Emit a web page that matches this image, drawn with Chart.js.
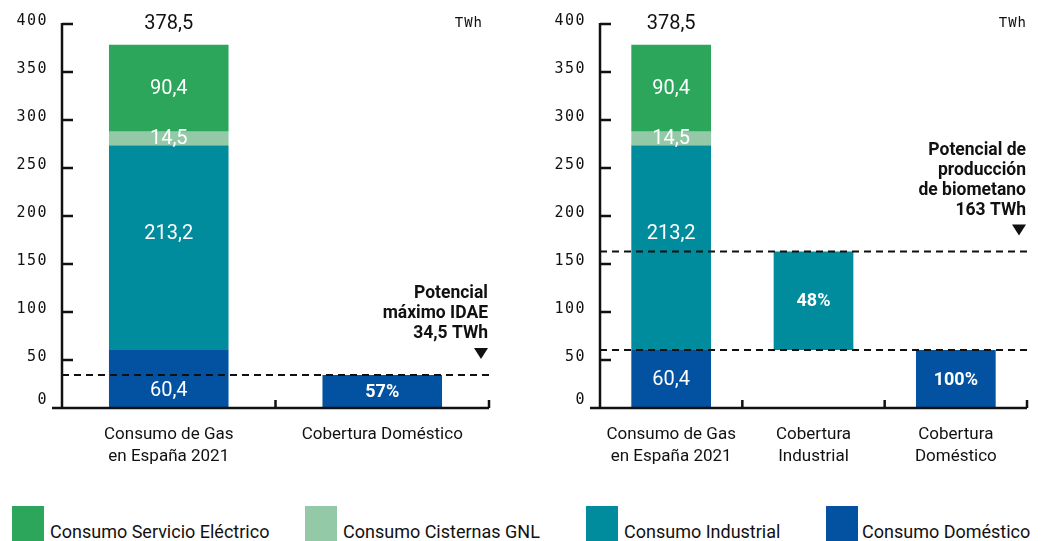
<!DOCTYPE html>
<html>
<head>
<meta charset="utf-8">
<script src="https://cdn.jsdelivr.net/npm/chart.js@4.4.1/dist/chart.umd.min.js"></script>
<style>
html, body { margin: 0; padding: 0; background: #fff; }
#wrap { position: relative; width: 1041px; height: 541px; overflow: hidden; }
.panel { position: absolute; top: 0; }
#left { left: 0; }
#right { left: 520px; }
.leg { position: absolute; top: 506px; height: 35px; font-family: Roboto, sans-serif; font-size: 18px; color: #111; }
.leg .sw { position: absolute; left: 0; top: 0; width: 32px; height: 35px; }
.leg .tx { position: absolute; top: 15px; line-height: 21px; white-space: nowrap; }
</style>
</head>
<body>
<div id="wrap">
  <canvas id="left" class="panel" width="520" height="480"></canvas>
  <canvas id="right" class="panel" width="521" height="480"></canvas>
  <div id="legend"></div>
</div>
<script>
// Categories
const categoriesLeft = [['Consumo de Gas', 'en España 2021'], ['Cobertura Doméstico']];
const categoriesRight = [['Consumo de Gas', 'en España 2021'], ['Cobertura', 'Industrial'], ['Cobertura', 'Doméstico']];
const yTicks = [0, 50, 100, 150, 200, 250, 300, 350, 400];

// Series (legend order)
const seriesNames = ['Consumo Servicio Eléctrico', 'Consumo Cisternas GNL', 'Consumo Industrial', 'Consumo Doméstico'];
const seriesColors = ['#2ba65b', '#93c9a6', '#008c9d', '#0352a2'];

// Consumo de gas 2021, TWh (same order as seriesNames)
const consumo2021 = [90.4, 14.5, 213.2, 60.4];
const consumoTotal = 378.5;

// Potenciales, TWh
const potencialIDAE = 34.5;
const potencialBiometano = 163;

// Coberturas
const coberturaDomesticoIDAE = '57%';
const coberturaIndustrialBio = '48%';
const coberturaDomesticoBio = '100%';

// Format number with comma decimal
function fmt(v) {
    return v.toFixed(1).replace('.', ',');
}

// Floating ranges for the stacked 2021 bar, bottom to top
function stackRanges() {
    const ranges = new Array(seriesNames.length);
    let base = 0;
    for (let i = seriesNames.length - 1; i >= 0; i--) {
        ranges[i] = [base, base + consumo2021[i]];
        base += consumo2021[i];
    }
    return ranges;
}

const ranges = stackRanges();
const idxDom = 3, idxInd = 2;

function buildDatasets(extra, n) {
    // extra: { seriesIndex: [ [catIndex, range, label], ... ] }
    return seriesNames.map((name, i) => {
        const data = new Array(n).fill(null);
        const labels = new Array(n).fill(null);
        data[0] = ranges[i];
        labels[0] = fmt(consumo2021[i]);
        (extra[i] || []).forEach(([c, r, l]) => { data[c] = r; labels[c] = l; });
        return {
            label: name,
            data: data,
            valueLabels: labels,
            backgroundColor: seriesColors[i],
            borderWidth: 0,
            grouped: false,
            categoryPercentage: 1,
            barPercentage: 0.56
        };
    });
}

const datasetsLeft = buildDatasets({
    [idxDom]: [[1, [0, potencialIDAE], coberturaDomesticoIDAE]]
}, categoriesLeft.length);

const datasetsRight = buildDatasets({
    [idxInd]: [[1, [consumo2021[idxDom], potencialBiometano], coberturaIndustrialBio]],
    [idxDom]: [[2, [0, consumo2021[idxDom]], coberturaDomesticoBio]]
}, categoriesRight.length);

const INK = '#111';

// Axes, labels and annotations
const decorPlugin = {
    id: 'decor',
    afterDatasetsDraw(chart, args, o) {
        const ctx = chart.ctx;
        const xs = chart.scales.x;
        const ys = chart.scales.y;
        const a = chart.chartArea;
        ctx.save();

        // dashed reference lines
        ctx.strokeStyle = INK;
        ctx.lineWidth = 2;
        ctx.setLineDash([7, 5]);
        o.dashed.forEach(v => {
            const y = ys.getPixelForValue(v);
            ctx.beginPath();
            ctx.moveTo(a.left, y);
            ctx.lineTo(a.right, y);
            ctx.stroke();
        });
        ctx.setLineDash([]);

        // y axis with inward ticks
        ctx.lineWidth = 2.5;
        ctx.beginPath();
        ctx.moveTo(a.left, ys.getPixelForValue(400) - 1);
        ctx.lineTo(a.left, a.bottom);
        yTicks.forEach(t => {
            if (t === 0) return;
            const y = ys.getPixelForValue(t);
            ctx.moveTo(a.left, y);
            ctx.lineTo(a.left + 11, y);
        });
        ctx.stroke();

        // x axis with category boundary ticks
        ctx.beginPath();
        ctx.moveTo(a.left - 10, a.bottom);
        ctx.lineTo(a.right, a.bottom);
        const n = chart.data.labels.length;
        for (let i = 1; i <= n; i++) {
            const x = i < n ? (xs.getPixelForValue(i - 1) + xs.getPixelForValue(i)) / 2 : a.right;
            ctx.moveTo(x, a.bottom);
            ctx.lineTo(x, a.bottom - 8);
        }
        ctx.stroke();

        // y tick labels
        ctx.fillStyle = INK;
        ctx.font = '15px "DejaVu Sans Mono", monospace';
        ctx.letterSpacing = '1.5px';
        ctx.textAlign = 'right';
        ctx.textBaseline = 'middle';
        yTicks.forEach(t => {
            const y = ys.getPixelForValue(t) - (t === 0 ? 8 : 3);
            ctx.fillText(String(t), a.left - 14, y);
        });

        // unit
        ctx.font = '14px "DejaVu Sans Mono", monospace';
        ctx.letterSpacing = '1px';
        ctx.fillText('TWh', a.right - o.unitInset + 1, ys.getPixelForValue(400) - 1);
        ctx.letterSpacing = '0px';

        // category labels
        ctx.font = '17px Roboto, sans-serif';
        ctx.textAlign = 'center';
        chart.data.labels.forEach((lines, i) => {
            const x = xs.getPixelForValue(i);
            lines.forEach((s, j) => ctx.fillText(s, x, a.bottom + 27 + j * 22));
        });

        // bar value labels
        chart.data.datasets.forEach((ds, di) => {
            const meta = chart.getDatasetMeta(di);
            meta.data.forEach((bar, i) => {
                const txt = ds.valueLabels[i];
                if (!txt || ds.data[i] == null) return;
                const pct = txt.indexOf('%') >= 0;
                let y = (bar.y + bar.base) / 2;
                if (!pct && o.nudge[di] != null) y += o.nudge[di];
                ctx.fillStyle = '#fff';
                ctx.font = pct ? 'bold 18px Roboto, sans-serif' : '20px Roboto, sans-serif';
                ctx.fillText(txt, bar.x, y + 1);
            });
        });

        // total above the 2021 bar
        ctx.fillStyle = INK;
        ctx.font = '20px Roboto, sans-serif';
        ctx.fillText(fmt(consumoTotal), xs.getPixelForValue(0), ys.getPixelForValue(consumoTotal) - 21);

        // annotation over the top dashed line
        const yd = ys.getPixelForValue(o.note.value);
        const rx = a.right - 1;
        ctx.font = 'bold 17.5px Roboto, sans-serif';
        ctx.textAlign = 'right';
        const L = o.note.lines;
        L.forEach((s, j) => ctx.fillText(s, rx, yd - 41 - (L.length - 1 - j) * 20));
        ctx.beginPath();
        ctx.moveTo(rx - 14, yd - 27);
        ctx.lineTo(rx, yd - 27);
        ctx.lineTo(rx - 7, yd - 16);
        ctx.closePath();
        ctx.fill();

        ctx.restore();
    }
};

function makeChart(id, labels, datasets, padRight, opts) {
    return new Chart(document.getElementById(id), {
        type: 'bar',
        data: { labels: labels, datasets: datasets },
        options: {
            responsive: false,
            animation: false,
            layout: { padding: { left: opts.padLeft, right: padRight, top: 24, bottom: 72 } },
            plugins: {
                legend: { display: false },
                tooltip: { enabled: false },
                decor: opts
            },
            scales: {
                x: { display: false },
                y: { display: false, min: 0, max: 400, ticks: { stepSize: 50 } }
            }
        },
        plugins: [decorPlugin]
    });
}

makeChart('left', categoriesLeft, datasetsLeft, 31, {
    padLeft: 62,
    unitInset: 7,
    dashed: [potencialIDAE],
    nudge: { [idxInd]: -15, [idxDom]: 11 },
    note: { value: potencialIDAE, lines: ['Potencial', 'máximo IDAE', fmt(potencialIDAE) + ' TWh'] }
});

makeChart('right', categoriesRight, datasetsRight, 14, {
    padLeft: 80,
    unitInset: 1,
    dashed: [potencialBiometano, consumo2021[idxDom]],
    nudge: { [idxInd]: -15 },
    note: { value: potencialBiometano, lines: ['Potencial de', 'producción', 'de biometano', potencialBiometano + ' TWh'] }
});

// Legend
const legendX = [12, 305, 586, 826];
document.getElementById('legend').innerHTML = seriesNames.map((name, i) => `
    <div class="leg" style="left:${legendX[i]}px">
        <span class="sw" style="background:${seriesColors[i]}"></span>
        <span class="tx" style="left:${i === 3 ? 36 : 38}px">${name}</span>
    </div>
`).join('');
</script>
</body>
</html>
